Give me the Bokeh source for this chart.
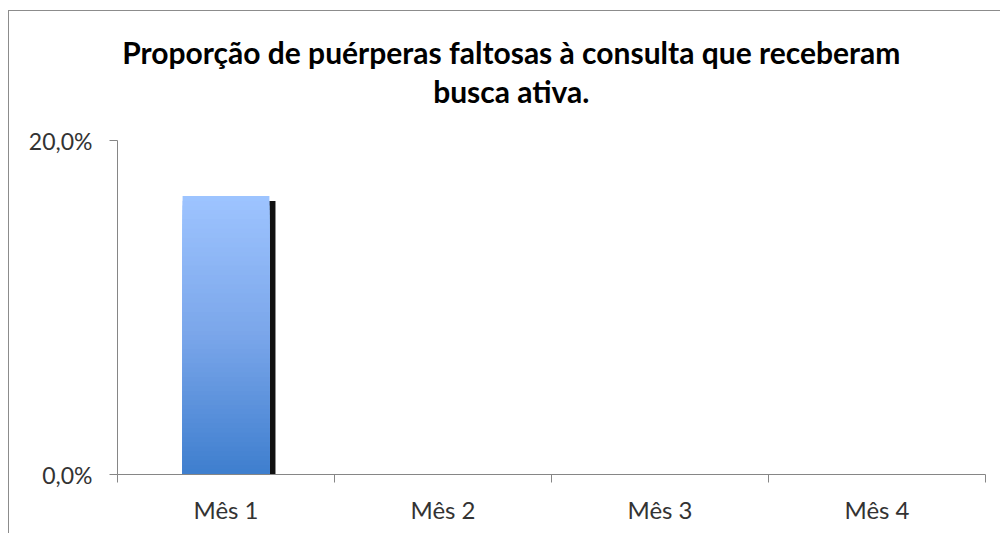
from bokeh.plotting import figure
from bokeh.layouts import column
from bokeh.models import (Range1d, LinearAxis, FixedTicker,
                          CustomJSTickFormatter, ColumnDataSource)
from bokeh.core.properties import value
from bokeh.embed import file_html
from bokeh.resources import INLINE

# ---- data ----
categories = ["Mês 1", "Mês 2", "Mês 3", "Mês 4"]
values = [0.1667, 0.0, 0.0, 0.0]
y_ticks = [0.0, 0.2]
title_lines = ["Proporção de puérperas faltosas à consulta que receberam", "busca ativa."]

AXIS = "#868686"
BORDER = "1px solid #8c8c8c"
TXT = "#333333"
FONT = "Lato"

n = len(categories)
centers = [i + 0.5 for i in range(n)]

W = 992
TH = 115

# ---- title strip ----
t = figure(width=W, height=TH, x_range=Range1d(0, W), y_range=Range1d(TH, 0),
           output_backend="svg", toolbar_location=None,
           x_axis_location=None, y_axis_location=None, min_border=0)
t.outline_line_color = None
t.grid.visible = False
t.styles = {"border-left": BORDER, "border-top": BORDER,
            "margin-left": "8px", "margin-top": "10px"}
t.text(x=[450] * len(title_lines), y=[40 + 39 * i for i in range(len(title_lines))],
       text=title_lines, text_align="center", text_baseline="alphabetic",
       text_font=value(FONT), text_font_size="30px", text_font_style="bold",
       text_color="black")

# ---- chart ----
p = figure(width=W, height=408,
           x_range=Range1d(0, n), y_range=Range1d(0, 0.2),
           output_backend="svg", toolbar_location=None,
           x_axis_location=None, y_axis_location=None,
           min_border_left=108, min_border_right=16, min_border_top=15, min_border_bottom=59)
p.outline_line_color = None
p.background_fill_color = "white"
p.border_fill_color = "white"
p.styles = {"border-left": BORDER, "margin-left": "8px"}

# y axis
yax = LinearAxis(ticker=FixedTicker(ticks=y_ticks),
                 formatter=CustomJSTickFormatter(code="return (tick*100).toFixed(1).replace('.', ',') + '%';"))
yax.axis_line_color = AXIS
yax.major_tick_line_color = AXIS
yax.major_tick_out = 8
yax.major_tick_in = 0
yax.minor_tick_line_color = None
yax.major_label_text_font = FONT
yax.major_label_text_font_size = "23px"
yax.major_label_text_color = TXT
yax.major_label_standoff = 17
p.add_layout(yax, "left")

# x boundary ticks
tax = LinearAxis(ticker=FixedTicker(ticks=list(range(n + 1))),
                 formatter=CustomJSTickFormatter(code="return '';"))
tax.axis_line_color = AXIS
tax.major_tick_line_color = AXIS
tax.major_tick_out = 8
tax.major_tick_in = 0
tax.minor_tick_line_color = None
tax.major_label_text_font_size = "1px"
tax.major_label_standoff = 0
p.add_layout(tax, "below")

# category labels
cax = LinearAxis(ticker=FixedTicker(ticks=centers),
                 formatter=CustomJSTickFormatter(args=dict(cats=categories),
                                                 code="return cats[Math.floor(tick)];"))
cax.axis_line_color = None
cax.major_tick_line_color = None
cax.minor_tick_line_color = None
cax.major_label_text_font = FONT
cax.major_label_text_font_size = "24px"
cax.major_label_text_color = TXT
cax.major_label_standoff = 6
p.add_layout(cax, "below")

p.xgrid.visible = False
p.ygrid.ticker = FixedTicker(ticks=y_ticks)
p.ygrid.grid_line_color = AXIS

# shadow
shadow = ColumnDataSource(dict(x=[c + 0.028 for c in centers],
                               top=[max(v - 0.003, 0) for v in values]))
p.vbar(x="x", top="top", bottom=0, width=0.4, source=shadow,
       fill_color="#111111", line_color=None)

# gradient bars (stacked from tallest to shortest so no seams)
stops = [(0.0, (62, 126, 206)), (0.5, (122, 166, 234)), (1.0, (158, 196, 255))]
def col(tt):
    for (t0, c0), (t1, c1) in zip(stops[:-1], stops[1:]):
        if tt <= t1:
            f = (tt - t0) / (t1 - t0)
            return "#%02x%02x%02x" % tuple(int(round(a + (b - a) * f)) for a, b in zip(c0, c1))
    return "#%02x%02x%02x" % stops[-1][1]

N = 60
xs, tops, cols = [], [], []
for c, v in zip(centers, values):
    if v <= 0:
        continue
    for k in range(N - 1, -1, -1):
        xs.append(c)
        tops.append(v * (k + 1) / N)
        cols.append(col((k + 0.5) / N))
p.vbar(x="x", bottom=0, top="t", width=0.4, fill_color="c", line_color=None,
       source=ColumnDataSource(dict(x=xs, t=tops, c=cols)))

layout = column(t, p, spacing=0)
open("out.html", "w").write(file_html(layout, INLINE))
